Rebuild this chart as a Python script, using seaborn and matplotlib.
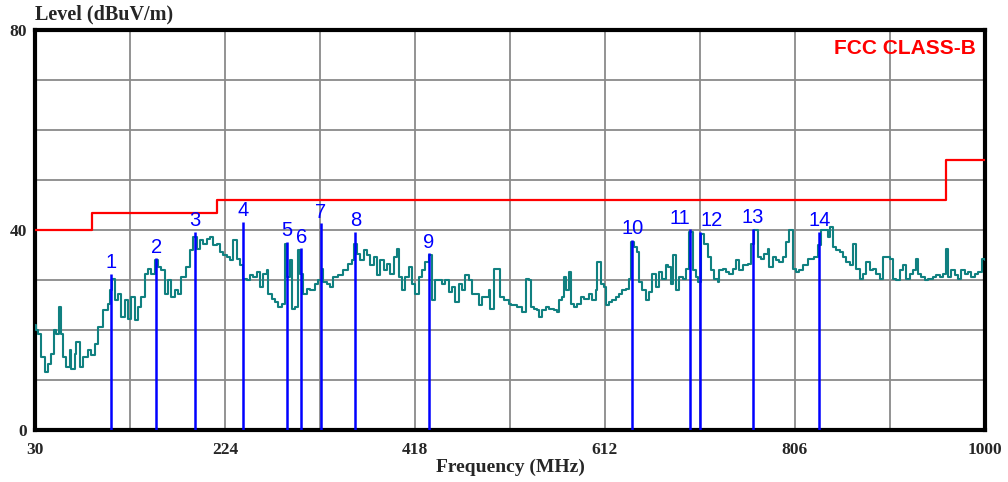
import matplotlib
matplotlib.use("Agg")
import matplotlib.pyplot as plt
import seaborn as sns
import pandas as pd
from matplotlib.ticker import MultipleLocator, FixedLocator

# ---------------- data ----------------
trace_freq = [30, 31.4, 33.1, 36.5, 39.9, 43.3, 46.7, 49.1, 51.8, 54.5, 56.9, 58.6, 62.0, 65.4, 67.1,
              70.5, 72.2, 75.6, 79.0, 84.1, 87.5, 90.9, 94.3, 99.4, 104.5, 106.9, 108.6, 111.3, 114.7,
              118.1, 121.6, 125.0, 128.4, 131.8, 135.2, 138.6, 142.0, 145.4, 148.8, 152.2, 155.6, 159.0,
              162.4, 165.8, 169.2, 172.6, 176.0, 179.4, 184.5, 187.9, 191.3, 195.1, 198.5, 201.9, 205.3,
              208.7, 212.1, 215.5, 218.9, 222.3, 225.7, 229.1, 232.5, 235.9, 239.3, 242.7, 246.1, 249.5,
              252.9, 256.3, 259.7, 263.1, 266.5, 268.2, 271.6, 275.0, 278.4, 281.9, 285.3, 287.0, 290.4,
              292.1, 295.5, 298.9, 300.6, 304.0, 307.4, 310.8, 315.9, 319.3, 322.7, 324.4, 327.8, 331.2,
              334.6, 339.7, 344.8, 349.9, 353.7, 355.4, 358.8, 362.2, 365.6, 369.0, 372.4, 375.8, 379.2,
              382.6, 386.0, 389.4, 392.8, 396.2, 399.6, 401.3, 404.7, 408.1, 411.5, 414.9, 418.3, 421.7,
              425.1, 428.5, 431.9, 435.3, 438.8, 442.2, 445.6, 449.0, 452.4, 455.8, 459.2, 462.6, 466.0,
              469.4, 472.8, 476.2, 479.6, 483.0, 486.4, 489.8, 493.2, 494.9, 498.3, 503.4, 505.1, 508.5,
              513.6, 515.7, 519.1, 522.5, 527.6, 531.0, 534.4, 536.1, 539.5, 542.9, 544.6, 548.0, 551.4,
              554.8, 559.9, 563.3, 565.0, 568.4, 570.1, 571.8, 575.2, 576.9, 580.3, 583.7, 587.1, 590.5,
              595.6, 599.0, 602.5, 604.2, 607.6, 611.0, 612.7, 616.1, 619.5, 622.9, 626.3, 629.7, 633.1,
              636.5, 638.2, 641.6, 645.0, 646.7, 650.1, 653.5, 656.9, 660.3, 663.7, 667.1, 670.5, 674.3,
              676.0, 679.4, 681.1, 684.5, 687.9, 691.3, 694.7, 698.1, 701.5, 704.9, 706.6, 710.0, 713.4,
              716.8, 720.2, 723.6, 727.0, 728.7, 732.1, 735.5, 738.9, 742.3, 745.7, 749.1, 752.5, 757.6,
              761.1, 764.5, 767.9, 771.3, 774.7, 778.1, 779.8, 783.2, 786.6, 790.0, 793.4, 796.8, 800.2,
              803.6, 807.0, 810.4, 813.8, 818.9, 825.7, 829.1, 832.5, 836.3, 839.7, 841.4, 844.8, 848.2,
              851.6, 855.0, 858.4, 861.8, 865.2, 868.6, 872.0, 875.4, 878.8, 882.2, 885.6, 889.0, 892.4,
              895.8, 899.2, 902.6, 906.0, 909.5, 912.9, 916.3, 919.7, 923.1, 926.5, 929.9, 931.6, 935.0,
              938.4, 941.8, 946.9, 950.3, 953.7, 957.1, 960.5, 962.2, 965.6, 969.0, 972.4, 975.8, 979.2,
              982.6, 986.0, 989.4, 992.8, 996.9, 1000]
trace_level = [21, 20, 19.3, 14.7, 11.7, 13.3, 15.3, 20, 19.3, 24.7, 19.3, 14.7, 12.7, 16, 12.3,
               15.3, 17.7, 12.7, 14.7, 16, 15, 17.3, 20.7, 24, 25.3, 28, 30.3, 26, 27.3,
               22.7, 26, 22.3, 26.7, 22, 24.7, 26.7, 31.3, 32.3, 31.3, 34, 32.7, 32,
               27.3, 30, 26.7, 28, 27.3, 30.7, 32.7, 36, 38.7, 36.3, 38, 37.3, 38.3,
               38.7, 37, 37.3, 35.7, 35, 34.7, 34, 38, 34.3, 33, 30.3, 30, 31,
               30.7, 31.7, 28.7, 31.3, 32, 27.3, 26.3, 25.7, 24.7, 25.3, 37.3, 30.7, 34,
               24.3, 24.7, 36, 31.3, 27.3, 28.3, 28, 29.3, 30, 32.3, 29.7, 29.3, 28.7,
               30.7, 31, 32, 33.3, 34, 37.3, 35.3, 34, 36, 35, 33, 34.7, 31,
               34, 32, 33.3, 31.3, 34.7, 36.3, 30.7, 28, 30.7, 32.7, 29.3, 27.3, 30.7,
               32, 33.7, 35, 26, 30, 30, 29.3, 30, 27.7, 28.7, 25.7, 29.3, 28,
               31, 30, 27.3, 27.3, 25, 26.7, 26.7, 28, 24.3, 32.3, 32.3, 26.7, 26,
               25.3, 25, 25, 24.7, 23.7, 30.3, 30, 24.7, 24.3, 24, 22.7, 24, 24.7,
               24.3, 24, 23.7, 26, 26.7, 30.7, 28, 31.7, 25.3, 24.7, 25.3, 26.7, 26.3,
               27.3, 26, 28, 33.7, 29.3, 28.7, 25, 25.7, 26, 26.7, 27.3, 28, 28.3,
               30.3, 37.7, 36.7, 35.7, 29.7, 28, 26, 27.7, 31.3, 28.7, 31.7, 30.3, 33,
               32.7, 29.3, 35, 28, 30.7, 30.3, 32.3, 39.7, 32, 30.7, 29.7, 39.3, 37.3,
               34.7, 32, 30.3, 29.7, 32, 32.3, 31.7, 31.3, 32.3, 34, 32, 33, 33.3,
               37.3, 40, 34.7, 34.3, 35.3, 36.3, 32.7, 34.7, 34, 33.7, 34.7, 37.7, 40,
               32.3, 31.7, 32, 33, 34.3, 34.7, 37, 40, 40, 38.7, 40.7, 36.7, 36,
               35.7, 34.7, 33.7, 33, 37.3, 32.3, 30.3, 31.3, 33.7, 32, 32.3, 31.3, 30.3,
               34.7, 34.7, 34.3, 30.3, 30, 32, 33, 30.3, 31.3, 32, 34.3, 31.3, 30.7,
               30, 30.3, 30.7, 31, 30.7, 31.3, 36.3, 30.7, 32, 31, 30.3, 32, 31.3,
               31.7, 30.7, 31.3, 31.7, 34.3, 34]

limit_freq = [30, 88, 216, 960, 1000]
limit_level = [40, 43.5, 46, 54, 54]

marker_labels = ["1", "2", "3", "4", "5", "6", "7", "8", "9", "10", "11", "12", "13", "14"]
marker_freq = [108, 154, 193, 242.5, 287, 302, 322, 357, 432, 640, 699, 709, 763, 831]
marker_level = [31.2, 34.4, 39.6, 41.6, 37.6, 36.4, 41.4, 39.6, 35.4, 38.0, 40.2, 39.6, 40.3, 39.6]

x_ticks = [30, 224, 418, 612, 806, 1000]
y_ticks = [0, 40, 80]
limit_name = "FCC CLASS-B"

# ---------------- plot ----------------
sns.set_style("white")
plt.rcParams["font.family"] = ["Liberation Serif", "DejaVu Serif"]

fig = plt.figure(figsize=(10.08, 4.82), dpi=100)
ax = fig.add_axes([35 / 1008, 52 / 482, 950 / 1008, 400 / 482])

trace_df = pd.DataFrame({"freq": trace_freq, "level": trace_level})
limit_df = pd.DataFrame({"freq": limit_freq, "level": limit_level})

sns.lineplot(data=limit_df, x="freq", y="level", ax=ax, color="#ff0000", lw=1.6,
             drawstyle="steps-post", estimator=None, sort=False, zorder=3)
sns.lineplot(data=trace_df, x="freq", y="level", ax=ax, color="#108080", lw=1.5,
             drawstyle="steps-post", estimator=None, sort=False, zorder=4)

ax.vlines(marker_freq, 0, marker_level, colors="#0000ff", lw=1.8, zorder=5)
sans = ["Liberation Sans", "DejaVu Sans"]
for lab, f, lv in zip(marker_labels, marker_freq, marker_level):
    ha = "center"
    if lab == "11":
        ha = "right"
    elif lab == "12":
        ha = "left"
    ax.text(f, lv + 0.3, lab, color="#0000ff", ha=ha, va="bottom",
            fontsize=14.5, family=sans, zorder=6)

ax.text(0.99, 0.955, limit_name, transform=ax.transAxes, color="#ff0000", ha="right",
        va="center", fontsize=15, fontweight="bold", family=sans, zorder=6)

ax.set_xlim(30, 1000)
ax.set_ylim(0, 80)
ax.xaxis.set_major_locator(FixedLocator(x_ticks))
ax.xaxis.set_minor_locator(MultipleLocator(97, offset=30))
ax.yaxis.set_major_locator(FixedLocator(y_ticks))
ax.yaxis.set_minor_locator(MultipleLocator(10))
ax.set_xticklabels([str(t) for t in x_ticks])
ax.set_yticklabels([str(t) for t in y_ticks])
ax.grid(True, which="both", color="#8a8a8a", lw=1.3, zorder=1)
ax.set_axisbelow(True)
ax.tick_params(axis="both", which="both", length=0, labelsize=12.5)
ax.tick_params(axis="x", pad=9)
ax.tick_params(axis="y", pad=6)
for lab in ax.get_xticklabels() + ax.get_yticklabels():
    lab.set_fontweight("bold")
for sp in ax.spines.values():
    sp.set_visible(True)
    sp.set_color("black")
    sp.set_linewidth(3)

ax.set_xlabel("Frequency (MHz)", fontsize=14, fontweight="bold", labelpad=0)
ax.set_ylabel("")
fig.text(35 / 1008, 1 - 19 / 482, "Level (dBuV/m)", ha="left", va="baseline",
         fontsize=14.5, fontweight="bold")

fig.savefig("out.png", dpi=100)
